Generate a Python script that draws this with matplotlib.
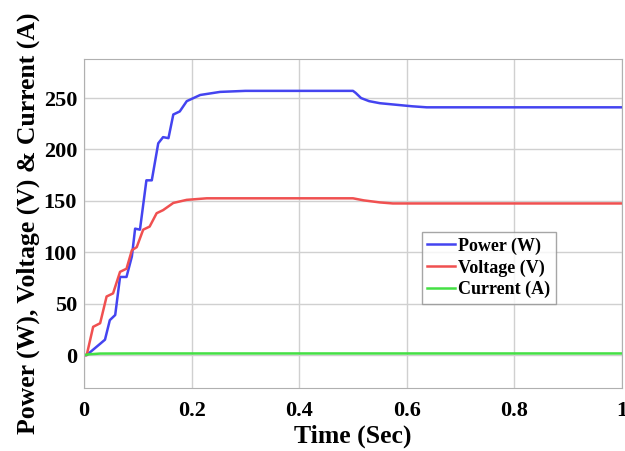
import numpy as np
import matplotlib
matplotlib.use("Agg")
import matplotlib.pyplot as plt

# Power (W) samples
t_power = [0.0, 0.005, 0.03, 0.039, 0.048, 0.058, 0.067, 0.079, 0.089, 0.095, 0.104,
           0.116, 0.126, 0.138, 0.147, 0.157, 0.166, 0.178, 0.191, 0.216, 0.253, 0.3,
           0.4, 0.5, 0.505, 0.515, 0.53, 0.55, 0.58, 0.61, 0.637, 0.7, 0.8, 0.9, 1.0]
power = [0, 0, 11, 15, 34, 39, 76, 76, 96, 123, 122,
         170, 170, 206, 212, 211, 234, 237, 247, 253, 256, 257,
         257, 257, 255, 250, 247, 245, 243.5, 242, 241, 241, 241, 241, 241]

# Voltage (V) samples
t_voltage = [0.0, 0.005, 0.017, 0.03, 0.042, 0.054, 0.067, 0.079, 0.089, 0.098, 0.110,
             0.122, 0.135, 0.147, 0.166, 0.191, 0.228, 0.3, 0.4, 0.5, 0.52, 0.55,
             0.574, 0.7, 0.8, 0.9, 1.0]
voltage = [0, 0, 27.5, 31, 57, 60, 81, 84, 102, 105, 122,
           125, 138, 141, 148, 151, 152.5, 152.5, 152.5, 152.5, 150.5, 148.5,
           147.5, 147.5, 147.5, 147.5, 147.5]

# Current (A) samples
t_current = [0.0, 0.01, 0.03, 0.1, 0.5, 1.0]
current = [0, 0.8, 1.5, 1.6, 1.6, 1.6]

x_ticks = [0, 0.2, 0.4, 0.6, 0.8, 1]
x_ticklabels = ["0", "0.2", "0.4", "0.6", "0.8", "1"]
y_ticks = [0, 50, 100, 150, 200, 250]

plt.rcParams['font.family'] = ['Liberation Serif', 'DejaVu Serif']
plt.rcParams['font.weight'] = 'bold'

fig = plt.figure(figsize=(6.25, 4.51), dpi=100)
ax = fig.add_axes([84/625, 1 - 388/451, (622-84)/625, (388-59)/451])

ax.plot(t_power, power, color='#4444f0', lw=1.8, label='Power (W)')
ax.plot(t_voltage, voltage, color='#f05050', lw=1.8, label='Voltage (V)')
ax.plot(t_current, current, color='#44e044', lw=1.8, label='Current (A)')

ax.set_xlim(0, 1)
ax.set_ylim(-32, 288)
ax.set_xticks(x_ticks)
ax.set_xticklabels(x_ticklabels)
ax.set_yticks(y_ticks)
ax.tick_params(axis='x', labelsize=16, length=0, pad=9)
ax.tick_params(axis='y', labelsize=16, length=0, pad=5)
for lbl in ax.get_xticklabels() + ax.get_yticklabels():
    lbl.set_fontweight('bold')
ax.grid(True, color='#d0d0d0', lw=1)
for s in ax.spines.values():
    s.set_color('#b0b0b0')

ax.set_xlabel('Time (Sec)', fontsize=18.5, fontweight='bold', labelpad=3)
ax.set_ylabel('Power (W), Voltage (V) & Current (A)', fontsize=18.5, fontweight='bold', labelpad=3)

leg = ax.legend(loc='upper left', bbox_to_anchor=((422-84)/538, 1 - (232-59)/329),
                prop={'family': 'Liberation Serif', 'weight': 'bold', 'size': 13},
                frameon=True, fancybox=False, borderpad=0.3, labelspacing=0.25,
                handlelength=1.5, handletextpad=0.2, borderaxespad=0)
leg.get_frame().set_edgecolor('#909090')
leg.get_frame().set_linewidth(1)

fig.savefig('out.png', dpi=100)
